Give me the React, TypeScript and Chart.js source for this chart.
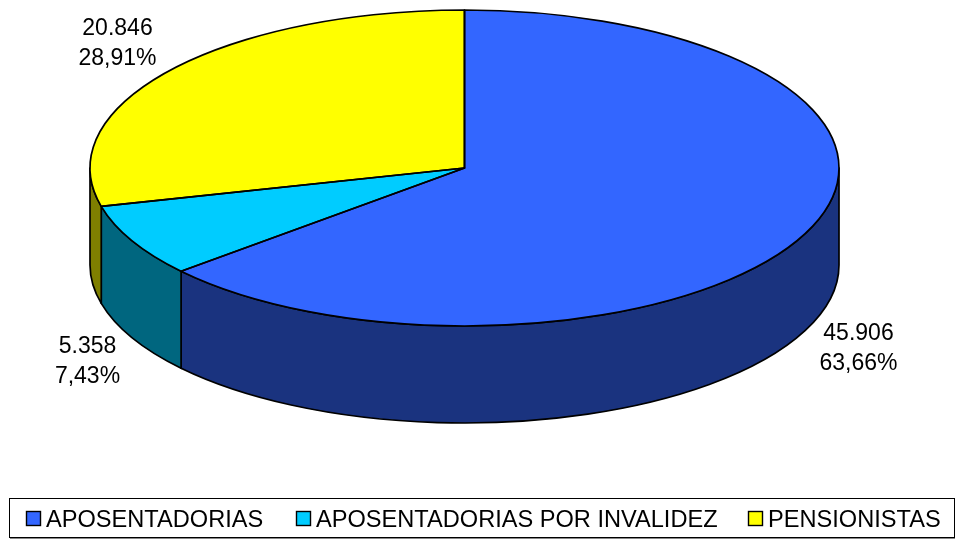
import React, { useEffect, useRef } from "react";
import { Chart, registerables } from "chart.js";

Chart.register(...registerables);

const categories = ["APOSENTADORIAS", "APOSENTADORIAS POR INVALIDEZ", "PENSIONISTAS"];
const values = [45906, 5358, 20846];
const valueLabels = ["45.906", "5.358", "20.846"];
const percentLabels = ["63,66%", "7,43%", "28,91%"];
const topColors = ["#3366FF", "#00CCFF", "#FFFF00"];
const sideColors = ["#1A337F", "#00667F", "#7F7F00"];

const FONT = '23px "Liberation Sans", Arial, sans-serif';
const LEGEND_FONT = '23.6px "Liberation Sans", Arial, sans-serif';
const RX = 374.5;
const RY = 158;
const DEPTH = 97;
const OUTLINE = 1.7;
const labelCenters = [
  { x: 858.5, y: 333.5 },
  { x: 87.5, y: 346.5 },
  { x: 117.5, y: 28.5 },
];
const legendFrame = { left: 9, top: 498, right: 954, bottom: 537 };
const legendBoxes = [
  { box: 26.5, text: 46 },
  { box: 296.5, text: 316 },
  { box: 748.5, text: 768 },
];

const pie3d = {
  id: "pie3d",
  beforeDatasetsDraw(chart: any) {
    const ctx = chart.ctx;
    const arcs = chart.getDatasetMeta(0).data;
    const { x: cx, y: cy, outerRadius: r } = arcs[0];
    // Side wall of the cylinder: only the part of each slice facing the viewer.
    arcs.forEach((arc: any, i: number) => {
      const a0 = Math.max(arc.startAngle, 0);
      const a1 = Math.min(arc.endAngle, Math.PI);
      if (a1 <= a0) return;
      ctx.save();
      ctx.beginPath();
      ctx.ellipse(cx, cy, RX, RY, 0, a0, a1);
      ctx.ellipse(cx, cy + DEPTH, RX, RY, 0, a1, a0, true);
      ctx.closePath();
      ctx.fillStyle = sideColors[i];
      ctx.fill();
      ctx.strokeStyle = "#000";
      ctx.lineWidth = OUTLINE;
      ctx.lineJoin = "round";
      ctx.stroke();
      ctx.restore();
    });
    ctx.save();
    ctx.translate(cx, cy);
    ctx.scale(RX / r, RY / r);
    ctx.translate(-cx, -cy);
  },
  afterDatasetsDraw(chart: any) {
    const ctx = chart.ctx;
    ctx.restore();
    const arcs = chart.getDatasetMeta(0).data;
    const { x: cx, y: cy } = arcs[0];
    ctx.save();
    ctx.strokeStyle = "#000";
    ctx.lineWidth = OUTLINE;
    ctx.lineJoin = "round";
    arcs.forEach((arc: any) => {
      ctx.beginPath();
      ctx.moveTo(cx, cy);
      ctx.ellipse(cx, cy, RX, RY, 0, arc.startAngle, arc.endAngle);
      ctx.closePath();
      ctx.stroke();
    });
    ctx.fillStyle = "#000";
    ctx.font = FONT;
    ctx.textAlign = "center";
    ctx.textBaseline = "middle";
    labelCenters.forEach((p, i) => {
      ctx.fillText(valueLabels[i], p.x, p.y);
      ctx.fillText(percentLabels[i], p.x, p.y + 30);
    });
    ctx.restore();
  },
  afterDraw(chart: any) {
    const ctx = chart.ctx;
    const f = legendFrame;
    ctx.save();
    ctx.fillStyle = "#888";
    ctx.fillRect(f.left + 1, f.bottom + 1, f.right - f.left, 1);
    ctx.strokeStyle = "#000";
    ctx.lineWidth = 1;
    ctx.strokeRect(f.left + 0.5, f.top + 0.5, f.right - f.left, f.bottom - f.top);
    ctx.font = LEGEND_FONT;
    ctx.textAlign = "left";
    ctx.textBaseline = "middle";
    chart.data.labels.forEach((label: string, i: number) => {
      const b = legendBoxes[i];
      ctx.fillStyle = topColors[i];
      ctx.fillRect(b.box, 511.5, 14, 14);
      ctx.strokeStyle = "#000";
      ctx.lineWidth = 1.4;
      ctx.strokeRect(b.box, 511.5, 14, 14);
      ctx.fillStyle = "#000";
      ctx.fillText(label, b.text, 520);
    });
    ctx.restore();
  },
};

export default function App() {
  const ref = useRef<HTMLCanvasElement>(null);
  useEffect(() => {
    document.body.style.margin = "0";
    document.body.style.background = "#fff";
    const chart = new Chart(ref.current!, {
      type: "pie",
      data: {
        labels: categories,
        datasets: [
          {
            data: values,
            backgroundColor: topColors,
            borderWidth: 0,
            clip: false as any,
          },
        ],
      },
      options: {
        responsive: false,
        animation: false,
        layout: { padding: { left: 0, right: 27, top: 0, bottom: 203 } },
        plugins: { legend: { display: false }, tooltip: { enabled: false } },
      },
      plugins: [pie3d],
    });
    return () => chart.destroy();
  }, []);
  return <canvas ref={ref} width={956} height={539} style={{ display: "block" }} />;
}
